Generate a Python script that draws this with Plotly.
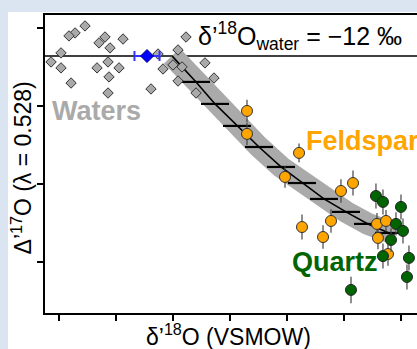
import plotly.graph_objects as go

FONT = "Liberation Sans, Arial, Helvetica, sans-serif"

# Waters (grey diamonds)
water_x = [-25.44, -27.19, -28.25, -21.93, -22.98, -21.05, -18.77, -29.65, -31.40, -29.65,
           -27.89, -23.33, -21.40, -19.47, -21.23, -21.40, -13.86, -12.63, -11.75, -9.12,
           -10.00, -8.42, -4.39, -9.12, -2.81, -5.96, -7.72]
water_y = [0.0513, 0.0468, 0.0449, 0.0442, 0.0404, 0.0372, 0.0429, 0.0340, 0.0282, 0.0244,
           0.0147, 0.0244, 0.0282, 0.0244, 0.0186, 0.0083, 0.0109, 0.0333, 0.0237, 0.0359,
           0.0263, 0.0250, 0.0276, 0.0160, 0.0179, 0.0083, 0.0442]

# Reference water (blue diamond)
ref_x = [-14.56]
ref_y = [0.032]
ref_err_x = [2.2]
water_line_y = 0.032

# Model curve
curve_x = [-10.18, -8.25, -5.96, -2.63, 1.23, 5.09, 8.95, 12.63, 16.49, 20.35, 24.21, 27.89, 28.95]
curve_y = [0.0321, 0.0244, 0.0154, 0.0013, -0.0128, -0.0263, -0.0391, -0.0494, -0.0596,
           -0.0679, -0.0756, -0.0814, -0.0821]
step_x = curve_x[2:12]
step_y = curve_y[2:12]

# Feldspar
feld_x = [2.98, 2.98, 12.11, 9.65, 19.47, 21.58, 12.63, 16.32, 17.72, 25.79, 27.37, 25.96, 27.72]
feld_y = [-0.0032, -0.0179, -0.0301, -0.0455, -0.0545, -0.0494, -0.0776, -0.0840, -0.0737,
          -0.0756, -0.0737, -0.0846, -0.0949]
feld_err = [0.0072, 0.0072, 0.0060, 0.0070, 0.0075, 0.0080, 0.0080, 0.0075, 0.0075,
            0.0070, 0.0070, 0.0072, 0.0075]

# Quartz
qtz_x = [25.61, 26.84, 30.00, 29.12, 30.35, 28.25, 26.84, 31.40, 31.05, 21.23]
qtz_y = [-0.0577, -0.0615, -0.0647, -0.0756, -0.0801, -0.0859, -0.0962, -0.0974, -0.1096, -0.1179]
qtz_err = [0.0080, 0.0080, 0.0080, 0.0075, 0.0080, 0.0075, 0.0080, 0.0080, 0.0080, 0.0085]

x_ticks = [-30, -20, -10, 0, 10, 20, 30]
y_ticks = [0.05, 0.0, -0.05, -0.10]
x_range = [-32.46, 32.81]
y_range = [-0.1327, 0.0583]

fig = go.Figure()

# grey band
fig.add_trace(go.Scatter(x=curve_x, y=curve_y, mode="lines",
                         line=dict(color="#aaaaaa", width=22), hoverinfo="skip"))
# model curve
fig.add_trace(go.Scatter(x=curve_x, y=curve_y, mode="lines",
                         line=dict(color="black", width=1.6), hoverinfo="skip"))
fig.add_trace(go.Scatter(x=step_x, y=step_y, mode="markers",
                         marker=dict(symbol="line-ew", size=20,
                                     line=dict(color="black", width=2.2)),
                         hoverinfo="skip"))
# waters
fig.add_trace(go.Scatter(x=water_x, y=water_y, mode="markers",
                         marker=dict(symbol="diamond", size=8, color="#a9a9a9",
                                     line=dict(color="#333333", width=1))))
# reference water
fig.add_trace(go.Scatter(x=ref_x, y=ref_y, mode="markers",
                         error_x=dict(type="data", array=ref_err_x, color="#3333ff",
                                      thickness=2, width=5),
                         marker=dict(symbol="diamond", size=10, color="#0000ff",
                                     line=dict(color="#000080", width=1))))
# feldspar
fig.add_trace(go.Scatter(x=feld_x, y=feld_y, mode="markers",
                         error_y=dict(type="data", array=feld_err, color="#444444",
                                      thickness=1.2, width=0),
                         marker=dict(symbol="circle", size=11, color="#ffa500",
                                     line=dict(color="#333333", width=1))))
# quartz
fig.add_trace(go.Scatter(x=qtz_x, y=qtz_y, mode="markers",
                         error_y=dict(type="data", array=qtz_err, color="#444444",
                                      thickness=1.2, width=0),
                         marker=dict(symbol="circle", size=11, color="#006400",
                                     line=dict(color="#222222", width=1))))

fig.update_layout(
    width=417, height=349,
    margin=dict(l=45, r=0, t=15, b=36),
    paper_bgcolor="#dbe4f1",
    plot_bgcolor="rgba(0,0,0,0)",
    showlegend=False,
    font=dict(family=FONT, color="black"),
    shapes=[
        dict(type="rect", xref="paper", yref="paper", x0=-0.0995, x1=1.05,
             y0=-0.2, y1=1.0101, fillcolor="white", line=dict(width=0), layer="below"),
        dict(type="line", xref="paper", yref="y", x0=0, x1=1,
             y0=water_line_y, y1=water_line_y, line=dict(color="black", width=1.6),
             layer="below"),
    ],
    annotations=[
        dict(text="δ’<sup>18</sup>O<sub>water</sub> = −12 ‰", xref="x", yref="y",
             x=-5.96, y=0.0449, xanchor="left", yanchor="middle", showarrow=False,
             font=dict(size=25, color="black")),
        dict(text="<b>Waters</b>", xref="x", yref="y", x=-31.6, y=-0.0032,
             xanchor="left", yanchor="middle", showarrow=False,
             font=dict(size=27, color="#aaaaaa")),
        dict(text="<b>Feldspar</b>", xref="x", yref="y", x=12.9, y=-0.0224,
             xanchor="left", yanchor="middle", showarrow=False,
             font=dict(size=27, color="#ffa500")),
        dict(text="<b>Quartz</b>", xref="x", yref="y", x=10.5, y=-0.100,
             xanchor="left", yanchor="middle", showarrow=False,
             font=dict(size=27, color="#006400")),
        dict(text="δ’<sup>18</sup>O (VSMOW)", xref="paper", yref="paper",
             x=0.492, y=-0.0738, xanchor="center", yanchor="middle", showarrow=False,
             font=dict(size=23, color="black")),
        dict(text="Δ’<sup>17</sup>O (λ = 0.528)", xref="paper", yref="paper",
             x=-0.0618, y=0.485, xanchor="center", yanchor="middle", showarrow=False,
             textangle=-90, font=dict(size=23, color="black")),
    ],
)
fig.update_xaxes(range=x_range, tickvals=x_ticks, showticklabels=False,
                 ticks="outside", ticklen=6, tickwidth=1.5, tickcolor="black",
                 showline=True, linecolor="black", linewidth=1.5, mirror=True,
                 showgrid=False, zeroline=False)
fig.update_yaxes(range=y_range, tickvals=y_ticks, showticklabels=False,
                 ticks="outside", ticklen=6, tickwidth=1.5, tickcolor="black",
                 showline=True, linecolor="black", linewidth=1.5, mirror=False,
                 showgrid=False, zeroline=False)

fig.write_html("out.html")
